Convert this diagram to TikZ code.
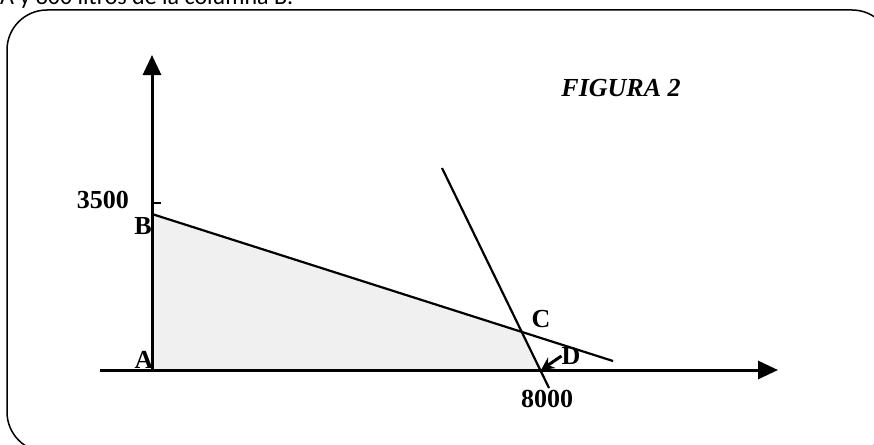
\documentclass[tikz,border=0pt]{standalone}
\usepackage{fontspec}
\setmainfont{Liberation Serif}
\newfontfamily\calibri{Carlito}
\usetikzlibrary{arrows.meta}

\begin{document}
\begin{tikzpicture}[x=1pt,y=-1pt,
	lbl/.style={font=\fontsize{26}{28}\selectfont\bfseries, inner sep=0pt},
	axis/.style={line width=3pt, -{Triangle[width=18pt,length=20pt]}},
	edge/.style={line width=2.2pt}]
	\useasboundingbox (0,0) rectangle (874,444);
	\clip (0,0) rectangle (874,444);
	\node[anchor=base west, inner sep=0pt, font=\calibri\fontsize{24}{26}\selectfont] (top) at (0,5) {A y 800 litros de la columna B.};
	\draw[line width=1.5pt, rounded corners=40pt] (7,10) rectangle (892,452);
	\coordinate (A) at (152,370);
	\coordinate (B) at (152,214);
	\coordinate (C) at (522,332);
	\coordinate (D) at (541,370);
	\coordinate (xs) at (100,370);
	\coordinate (xe) at (778,370);
	\coordinate (ye) at (152,55);
	\coordinate (bc) at (613,361);
	\coordinate (s1) at (442,168);
	\coordinate (s2) at (549,388);
	\coordinate (t1) at (152,203);
	\coordinate (t2) at (161,203);
	\fill[black!6] (A) -- (B) -- (C) -- (D) -- cycle;
	\draw[axis] (xs) -- (xe);
	\draw[axis] (A) -- (ye);
	\draw[line width=2pt] (t1) -- (t2);
	\draw[edge] (B) -- (bc);
	\draw[edge] (s1) -- (s2);
	\node[lbl, anchor=east] (n3500) at (129,200) {3500};
	\node[lbl] (lB) at (143,226) {B};
	\node[lbl] (lA) at (144,360) {A};
	\node[lbl] (lC) at (541,319) {C};
	\node[lbl] (lD) at (571,356) {D};
	\node[lbl] (n8000) at (547,399) {8000};
	\node[lbl, font=\fontsize{26}{28}\selectfont\bfseries\itshape] (fig) at (621,88) {FIGURA 2};
	\draw[line width=3pt, -{Stealth[length=13pt,width=13pt]}] (lD.west) -- (D);
\end{tikzpicture}
\end{document}
